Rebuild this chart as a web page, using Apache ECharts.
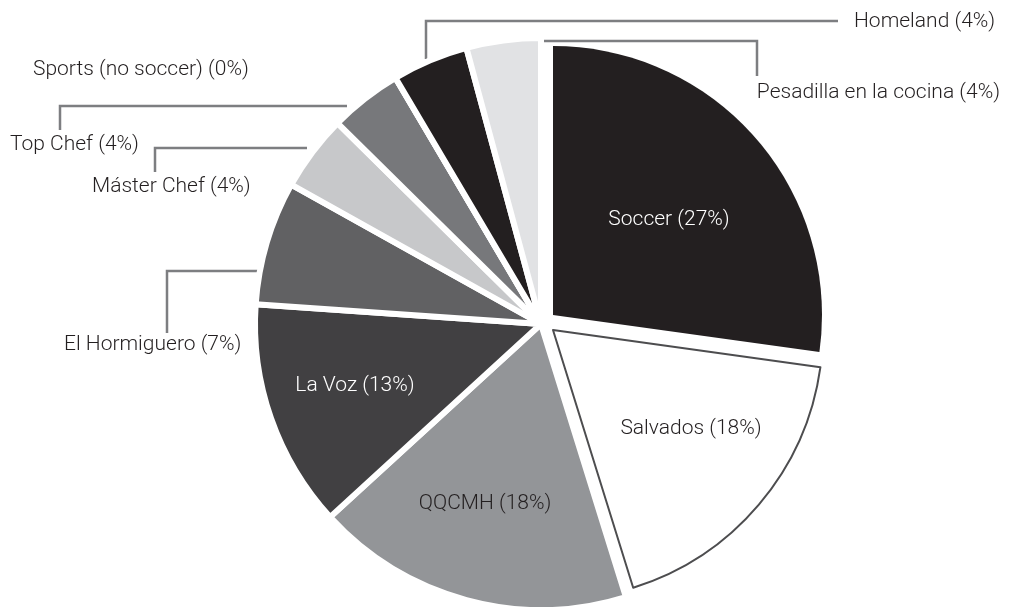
<!DOCTYPE html>
<html><head><meta charset="utf-8">
<script src="https://cdn.jsdelivr.net/npm/echarts@6/dist/echarts.min.js"></script>
<style>html,body{margin:0;padding:0;background:#fff}#c{width:1010px;height:607px}</style>
</head><body><div id="c"></div>
<script>
// ---- data ----
const categories = ['Soccer','Salvados','QQCMH','La Voz','El Hormiguero','Máster Chef','Top Chef','Sports (no soccer)','Homeland','Pesadilla en la cocina'];
const shares = [27.2, 18.0, 18.0, 12.9, 7.0, 4.3, 4.1, 0, 4.3, 4.2];

// ---- styles ----
const sliceColors = ['#231f20','#ffffff','#939598','#414042','#616163','#c7c8ca','#77787b','#a7a9ac','#231f20','#e1e2e4'];
const insideTextColor = {'Soccer':'#ffffff','Salvados':'#231f20','QQCMH':'#231f20','La Voz':'#ffffff'};
// label layout (annotation positions, not data)
const labelPlacement = {
  'Soccer': {x:669, y:220, align:'center'},
  'Salvados': {x:691, y:429, align:'center'},
  'QQCMH': {x:485, y:504, align:'center'},
  'La Voz': {x:355, y:386, align:'center'},
  'Homeland': {x:854, y:22, align:'left', guide:[[426,59],[426,21],[838,21]]},
  'Pesadilla en la cocina': {x:1000, y:93, align:'right', guide:[[523,41],[757,41],[757,76]]},
  'Sports (no soccer)': {x:33, y:70, align:'left'},
  'Top Chef': {x:10, y:145, align:'left', guide:[[347,106],[60,106],[60,130]]},
  'Máster Chef': {x:92, y:187, align:'left', guide:[[307,148],[155,148],[155,172]]},
  'El Hormiguero': {x:64, y:345, align:'left', guide:[[258,271],[167,271],[167,333]]}
};
// geometry of the three pie layers
const layers = [
  {center:[541,324], radius:286, items:null, border:{color:'#ffffff', width:6}},
  {center:[553,315], radius:269, items:['Soccer'], border:{color:'#231f20', width:0}},
  {center:[553,330], radius:270, items:['Salvados'], border:{color:'#4d4d4f', width:2}}
];
const specialItems = ['Soccer','Salvados'];

const font = {fontFamily:'Roboto', fontSize:21, fontWeight:300};
const guideStyle = {color:'#7d7e81', width:2.5};

function buildData(layer) {
  return categories.map((name, i) => {
    const visible = layer.items ? layer.items.includes(name) : !specialItems.includes(name);
    const hasGuide = !!(labelPlacement[name] && labelPlacement[name].guide);
    const inside = insideTextColor[name] !== undefined;
    return {
      name: name,
      value: shares[i],
      itemStyle: visible ? {color: sliceColors[i], borderColor: layer.border.color, borderWidth: layer.border.width}
                         : {color: 'rgba(0,0,0,0)', borderWidth: 0},
      label: {show: visible, color: inside ? insideTextColor[name] : '#231f20', position: inside ? 'inside' : 'outside'},
      labelLine: {show: visible && hasGuide, lineStyle: guideStyle}
    };
  });
}

const chart = echarts.init(document.getElementById('c'), null, {renderer:'canvas'});
chart.setOption({
  animation: false,
  backgroundColor: '#ffffff',
  series: layers.map((layer) => ({
    type: 'pie',
    center: layer.center,
    radius: [0, layer.radius],
    startAngle: 90,
    clockwise: true,
    avoidLabelOverlap: false,
    silent: true,
    emphasis: {disabled: true},
    label: Object.assign({formatter: p => p.name + ' (' + Math.round(p.percent) + '%)'}, font),
    labelLine: {lineStyle: guideStyle, smooth:false},
    labelLayout: function (params) {
      const name = categories[params.dataIndex];
      const pl = labelPlacement[name];
      if (!pl) return {};
      const out = {x: pl.x, y: pl.y, align: pl.align, verticalAlign: 'middle'};
      if (pl.guide) out.labelLinePoints = pl.guide;
      return out;
    },
    data: buildData(layer)
  }))
});
</script></body></html>
